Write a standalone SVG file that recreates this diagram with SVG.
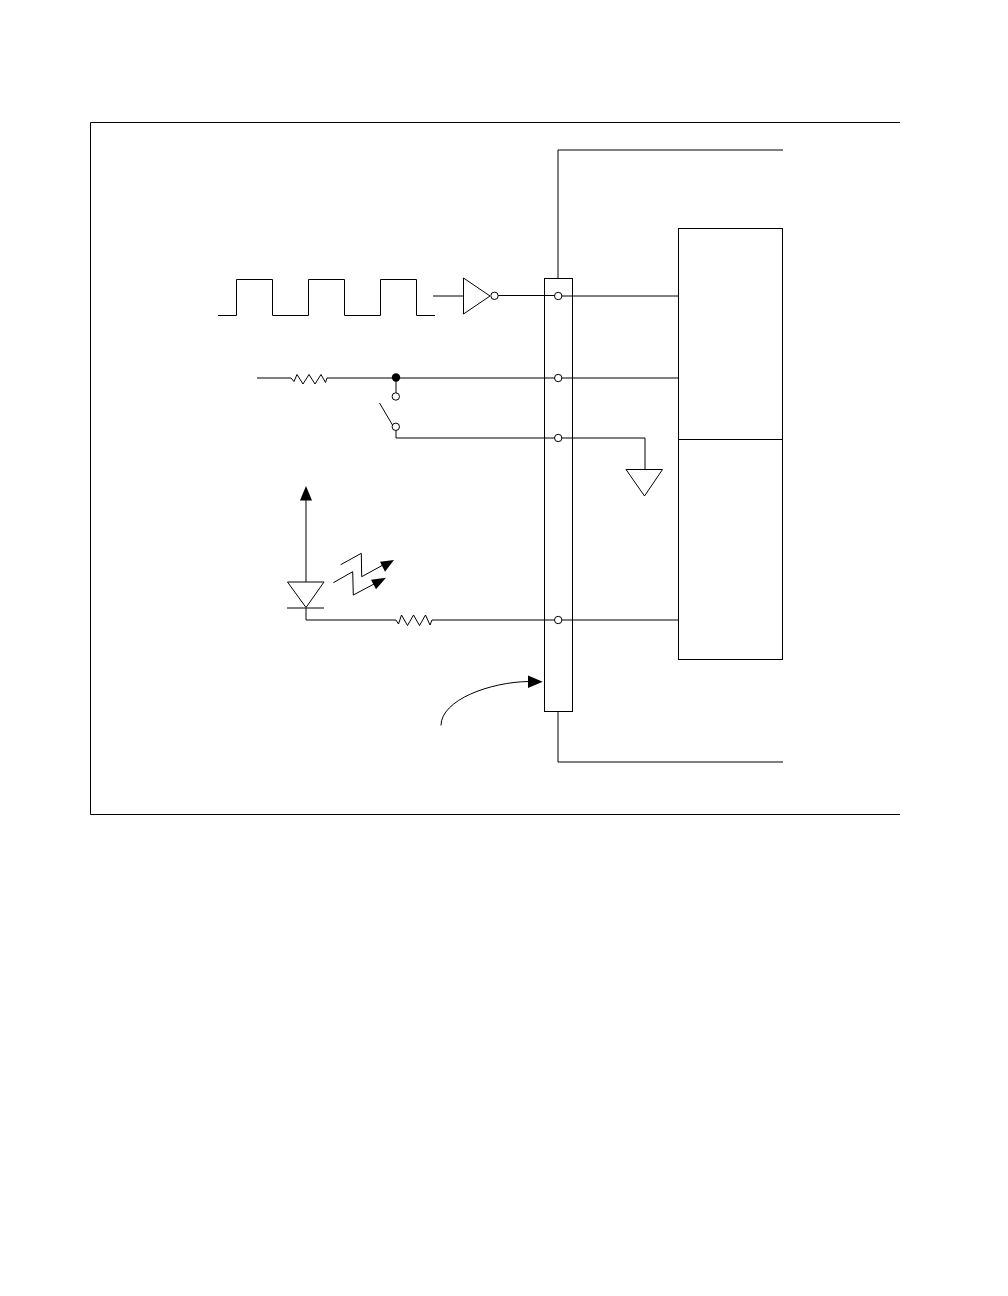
<svg xmlns="http://www.w3.org/2000/svg" width="1008" height="1296" viewBox="0 0 1008 1296">
<style>
.w{fill:none;stroke:#000;stroke-width:1}
.b{fill:#fff;stroke:#000;stroke-width:1}
.f{fill:#000;stroke:none}
</style>
<rect width="1008" height="1296" fill="#fff"/>
<path id="frame" class="w" d="M900 122.500H90.500V814.500H900"/>
<g id="connectors">
<path class="w" d="M558 278V150H783"/>
<path class="w" d="M558 711V762H783"/>
<path class="w" d="M433 296H464"/>
<path class="w" d="M498 295.500H558"/>
<path class="w" d="M558 296H678"/>
<path class="w" d="M257 378H291M327 378H678"/>
<path class="w" d="M396 378V393"/>
<path class="w" d="M396 430V438H645V470"/>
<path class="w" d="M306 582V498"/>
<path class="w" d="M306 608V620H396M432 620H678"/>
<path class="w" d="M441 725.500C441 700 490 682 529 681.500"/>
</g>
<g id="square-wave"><path class="w" d="M218 315.500H236.500V279.500H272.500V315.500H308.500V279.500H344.500V315.500H380.500V279.500H416.500V315.500H435"/></g>
<g id="inverter">
<path class="b" d="M463.500 278L490 296L463.500 314Z"/>
<circle class="b" cx="494.500" cy="295.800" r="3.700"/>
</g>
<g id="terminal-block">
<rect class="w" x="544.500" y="278.500" width="28" height="433"/>
<circle class="b" cx="558.200" cy="296" r="3.700"/>
<circle class="b" cx="558.200" cy="378" r="3.700"/>
<circle class="b" cx="558.200" cy="438" r="3.700"/>
<circle class="b" cx="558.200" cy="620" r="3.700"/>
</g>
<g id="device">
<rect class="w" x="678.500" y="228.500" width="104" height="431"/>
<path class="w" d="M678.500 439.500H782.500"/>
</g>
<g id="resistor-top"><path class="w" d="M291 378L294 381.500L297 374.500L303 384L309 374.500L315 384L321 374.500L325.500 382.500L327 378"/></g>
<g id="switch">
<circle class="f" cx="396" cy="377.500" r="4.200"/>
<circle class="b" cx="395.800" cy="396.500" r="3.700"/>
<path class="w" d="M379.500 403L392.500 425"/>
<circle class="b" cx="395.800" cy="426.800" r="3.700"/>
</g>
<g id="ground"><path class="b" d="M626 469.500H662.500L644.500 496Z"/></g>
<g id="photodiode">
<path class="f" d="M306 486L312 500.500H300Z"/>
<path class="b" d="M287.500 582H324L306 607.500Z"/>
<path class="w" d="M287 608H324"/>
<path class="w" d="M340.700 564.700L361.300 553.300L361.700 576.700L383 565"/>
<path class="f" d="M394 560L380 561.700L385 571.700Z"/>
<path class="w" d="M333.300 582.700L352.700 571.700L353.300 595L375 583.500"/>
<path class="f" d="M386 577.700L371 579.700L376 589.300Z"/>
</g>
<g id="resistor-bottom"><path class="w" d="M396 620L398.500 624L401.500 615L407.500 625.500L413.500 615L419.500 625.500L425.500 615L430 625L432 620"/></g>
<g id="pointer"><path class="f" d="M542.700 681.700L528 675.500V688Z"/></g>
</svg>
